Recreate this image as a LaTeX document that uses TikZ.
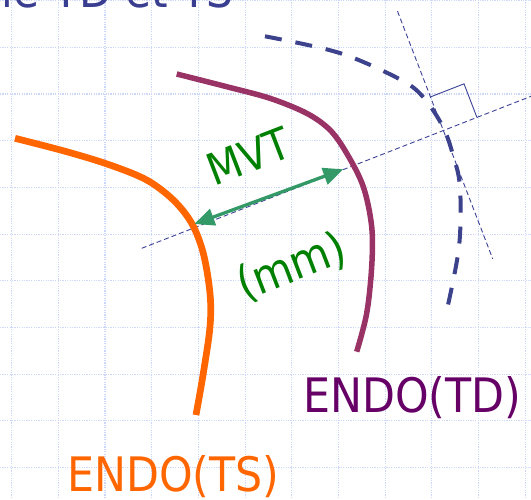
\documentclass[tikz,border=0pt]{standalone}
\usepackage{fontspec}
\setmainfont{DejaVu Sans}[FakeStretch=0.9]
\usetikzlibrary{arrows.meta,calc}
\definecolor{titleblue}{RGB}{58,62,145}
\definecolor{epiblue}{RGB}{60,66,140}
\definecolor{thinblue}{RGB}{60,66,150}
\definecolor{gridblue}{RGB}{205,216,248}
\definecolor{endots}{RGB}{255,102,0}
\definecolor{endotd}{RGB}{153,51,102}
\definecolor{tdtext}{RGB}{102,0,102}
\definecolor{mvtgreen}{RGB}{0,128,0}
\definecolor{arrowgreen}{RGB}{51,153,102}
\tikzset{
  gridline/.style={gridblue, line width=1.1pt, dash pattern=on 1.2pt off 1.2pt},
  guide/.style={thinblue, line width=0.9pt, dash pattern=on 5pt off 3pt},
  epicurve/.style={epiblue, line width=4pt, dash pattern=on 17pt off 14pt},
  mvtarrow/.style={arrowgreen, line width=3.3pt, {Triangle[length=20pt,width=17pt]}-{Triangle[length=20pt,width=17pt]}},
  lbl/.style={inner sep=0pt, font=\fontsize{#1}{#1}\selectfont},
}
\begin{document}
\begin{tikzpicture}[x=1pt,y=-1pt]
\useasboundingbox (0,0) rectangle (531,499);
\fill[white] (0,0) rectangle (531,499);
% grid
\foreach \k in {0,...,11} { \draw[gridline] ({11.7+46.67*\k},0) -- ({11.7+46.67*\k},499); }
\foreach \k in {0,...,10} { \draw[gridline] (0,{0.7+46.67*\k}) -- (531,{0.7+46.67*\k}); }
% title (cut off at the top)
\node[lbl=47, anchor=base east, text=titleblue] (title) at (234,7) {le TD et TS};
% guide lines
\coordinate (n1) at (141.7,248.3);
\coordinate (n2) at (531,96.3);
\coordinate (t1) at (397.5,11.2);
\coordinate (t2) at (492.7,258.8);
\draw[guide] (n1) -- (n2);
\draw[guide] (t1) -- (t2);
\coordinate (X) at (intersection of n1--n2 and t1--t2);
\coordinate (s1) at ($(X)!36pt!(t1)$);
\coordinate (s2) at ($(X)!36pt!(n2)$);
\draw[thinblue, line width=0.9pt] (s1) -- ($(s1)+(s2)-(X)$) -- (s2);
% epicardium (dashed)
\draw[epicurve] plot[smooth, tension=0.55] coordinates {(265,36.3) (339.7,53) (400.9,79.8) (424,98) (443,127) (453,155) (460,187) (459,247) (446,314)};
% endo TS
\draw[endots, line width=6.7pt] plot[smooth, tension=0.55] coordinates {(15,138.3) (66.7,151.7) (110,165) (146.7,180) (173.3,200) (191.7,223.3) (203.3,253.3) (210,293.3) (210,326.7) (203.3,373.3) (196,415)};
% endo TD
\draw[endotd, line width=5.5pt] plot[smooth, tension=0.55] coordinates {(176.7,74) (226.7,86.7) (270,98.3) (306.7,113.3) (330,130) (346.7,153.3) (363.3,186.7) (371.7,226.7) (371.7,266.7) (366.7,313.3) (356.7,351.7)};
% MVT arrow
\coordinate (aL) at (194.3,224);
\coordinate (aR) at (343.3,169.3);
\draw[mvtarrow] (aL) -- (aR);
% labels
\node[lbl=44, anchor=base west, rotate=21, text=mvtgreen] (mvt) at (214,187) {MVT};
\node[lbl=46, anchor=base west, rotate=21, text=mvtgreen] (mm) at (244,301) {(mm)};
\node[lbl=47.5, anchor=base west, text=tdtext] (td) at (303,412.3) {ENDO(TD)};
\node[lbl=47.5, anchor=base west, text=endots] (ts) at (67.2,491.7) {ENDO(TS)};
\end{tikzpicture}
\end{document}
